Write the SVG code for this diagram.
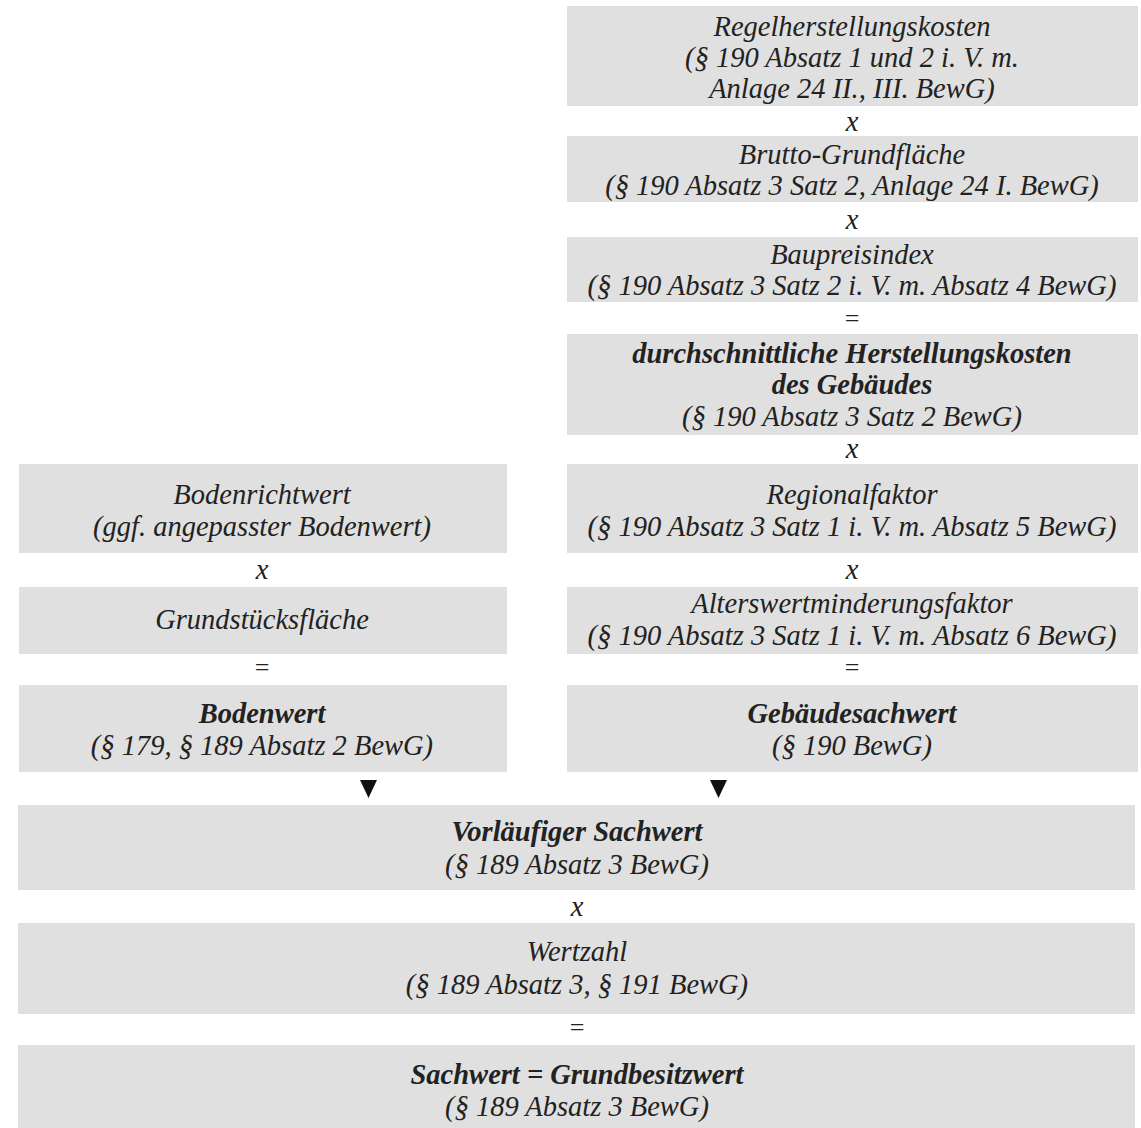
<svg xmlns="http://www.w3.org/2000/svg" width="1141" height="1128" viewBox="0 0 1141 1128">
<style>
.box{fill:#e0e0e0;}
text{font-family:"Liberation Serif","Times New Roman",serif;font-style:italic;font-size:28.5px;fill:#222222;text-anchor:middle;}
.b{font-weight:bold;}
.op{font-style:normal;font-size:26px;}
.arrow{fill:#111;}
</style>
<rect width="1141" height="1128" fill="#ffffff"/>
<g id="n-regelherstellungskosten"><rect class="box" x="567" y="6" width="571" height="100"/>
<text x="852" y="36">Regelherstellungskosten</text><text x="852" y="67">(§ 190 Absatz 1 und 2 i. V. m.</text><text x="852" y="98">Anlage 24 II., III. BewG)</text></g>
<text x="852" y="131">x</text>
<g id="n-brutto"><rect class="box" x="567" y="136" width="571" height="66"/>
<text x="852" y="164">Brutto-Grundfläche</text><text x="852" y="195">(§ 190 Absatz 3 Satz 2, Anlage 24 I. BewG)</text></g>
<text x="852" y="229">x</text>
<g id="n-baupreisindex"><rect class="box" x="567" y="237" width="571" height="65"/>
<text x="852" y="264">Baupreisindex</text><text x="852" y="295">(§ 190 Absatz 3 Satz 2 i. V. m. Absatz 4 BewG)</text></g>
<text class="op" x="852" y="327">=</text>
<g id="n-durchschnitt"><rect class="box" x="567" y="334" width="571" height="101"/>
<text class="b" x="852" y="363">durchschnittliche Herstellungskosten</text><text class="b" x="852" y="394">des Gebäudes</text><text x="852" y="426">(§ 190 Absatz 3 Satz 2 BewG)</text></g>
<text x="852" y="458">x</text>
<g id="n-regionalfaktor"><rect class="box" x="567" y="464" width="571" height="89"/>
<text x="852" y="504">Regionalfaktor</text><text x="852" y="536">(§ 190 Absatz 3 Satz 1 i. V. m. Absatz 5 BewG)</text></g>
<text x="852" y="579">x</text>
<g id="n-alterswert"><rect class="box" x="567" y="587" width="571" height="67"/>
<text x="852" y="613">Alterswertminderungsfaktor</text><text x="852" y="645">(§ 190 Absatz 3 Satz 1 i. V. m. Absatz 6 BewG)</text></g>
<text class="op" x="852" y="676">=</text>
<g id="n-gebaeudesachwert"><rect class="box" x="567" y="685" width="571" height="87"/>
<text class="b" x="852" y="723">Gebäudesachwert</text><text x="852" y="755">(§ 190 BewG)</text></g>
<g id="n-bodenrichtwert"><rect class="box" x="19" y="464" width="488" height="89"/>
<text x="262" y="504">Bodenrichtwert</text><text x="262" y="536">(ggf. angepasster Bodenwert)</text></g>
<text x="262" y="579">x</text>
<g id="n-grundstuecksflaeche"><rect class="box" x="19" y="587" width="488" height="67"/>
<text x="262" y="629">Grundstücksfläche</text></g>
<text class="op" x="262" y="676">=</text>
<g id="n-bodenwert"><rect class="box" x="19" y="685" width="488" height="87"/>
<text class="b" x="262" y="723">Bodenwert</text><text x="262" y="755">(§ 179, § 189 Absatz 2 BewG)</text></g>
<g id="connectors">
<polygon class="arrow" points="360,780 377,780 368.5,798"/>
<polygon class="arrow" points="710,780 727,780 718.5,798"/>
</g>
<g id="n-vorlaeufiger"><rect class="box" x="18" y="805" width="1117" height="85"/>
<text class="b" x="577" y="841">Vorläufiger Sachwert</text><text x="577" y="874">(§ 189 Absatz 3 BewG)</text></g>
<text x="577" y="916">x</text>
<g id="n-wertzahl"><rect class="box" x="18" y="923" width="1117" height="91"/>
<text x="577" y="961">Wertzahl</text><text x="577" y="994">(§ 189 Absatz 3, § 191 BewG)</text></g>
<text class="op" x="577" y="1036">=</text>
<g id="n-sachwert"><rect class="box" x="18" y="1045" width="1117" height="83"/>
<text class="b" x="577" y="1084">Sachwert = Grundbesitzwert</text><text x="577" y="1116">(§ 189 Absatz 3 BewG)</text></g>
</svg>
